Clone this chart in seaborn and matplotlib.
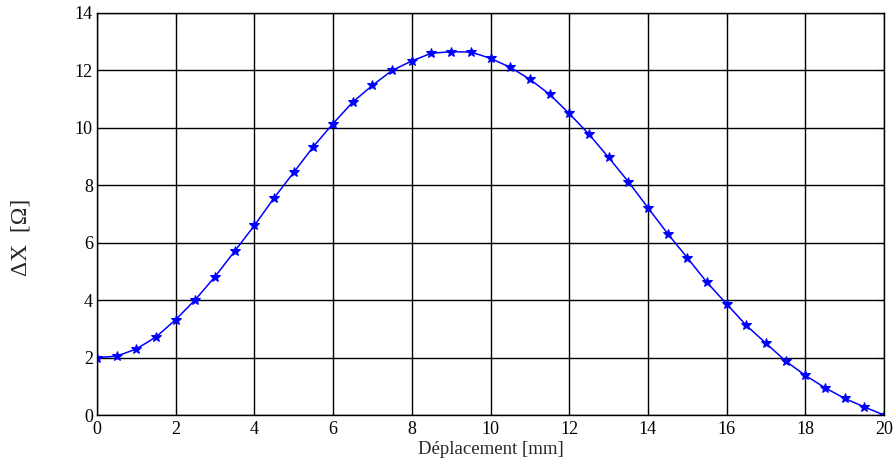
import matplotlib
matplotlib.use('Agg')
import pandas as pd
import matplotlib.pyplot as plt
import seaborn as sns

# data -----------------------------------------------------------------------
deplacement = [0, 0.5, 1, 1.5, 2, 2.5, 3, 3.5, 4, 4.5, 5, 5.5, 6, 6.5, 7, 7.5,
               8, 8.5, 9, 9.5, 10, 10.5, 11, 11.5, 12, 12.5, 13, 13.5, 14,
               14.5, 15, 15.5, 16, 16.5, 17, 17.5, 18, 18.5, 19, 19.5, 20]
delta_x = [2.0, 2.05, 2.3, 2.72, 3.32, 4.02, 4.82, 5.71, 6.6, 7.56, 8.45,
           9.35, 10.15, 10.9, 11.48, 12.0, 12.33, 12.6, 12.65, 12.64, 12.42,
           12.11, 11.69, 11.17, 10.5, 9.78, 8.97, 8.13, 7.22, 6.32, 5.48,
           4.62, 3.87, 3.12, 2.5, 1.88, 1.38, 0.95, 0.58, 0.28, 0.0]
x_ticks = list(range(0, 21, 2))
y_ticks = list(range(0, 15, 2))

df = pd.DataFrame({'x': deplacement, 'y': delta_x})

sns.set_style('white')
plt.rcParams['font.family'] = ['Liberation Serif', 'DejaVu Serif']

fig = plt.figure(figsize=(8.95, 4.67), dpi=100)
ax = fig.add_axes([0.1084, 0.1113, 0.8793, 0.8609])

sns.lineplot(data=df, x='x', y='y', ax=ax, color='#0000ff', linewidth=1.1,
             marker='*', markersize=7.5, markeredgecolor='#0000ff', estimator=None)

ax.set_xlim(0, 20)
ax.set_ylim(0, 14)
ax.set_xticks(x_ticks)
ax.set_yticks(y_ticks)
ax.grid(True, color='black', linewidth=1.0, linestyle='-')
ax.set_axisbelow(True)
for s in ax.spines.values():
    s.set_color('black')
    s.set_linewidth(1.0)

ax.tick_params(axis='both', direction='in', length=4, labelsize=13,
               top=True, right=True, colors='black')
ax.tick_params(axis='x', pad=4)
ax.tick_params(axis='y', pad=3)

ax.set_xlabel('Déplacement [mm]', fontsize=13.5, labelpad=2.5)
ax.set_ylabel('ΔX  [Ω]', fontsize=17)
ax.yaxis.set_label_coords(-0.083, 0.443)

fig.savefig('out.png', dpi=100)
